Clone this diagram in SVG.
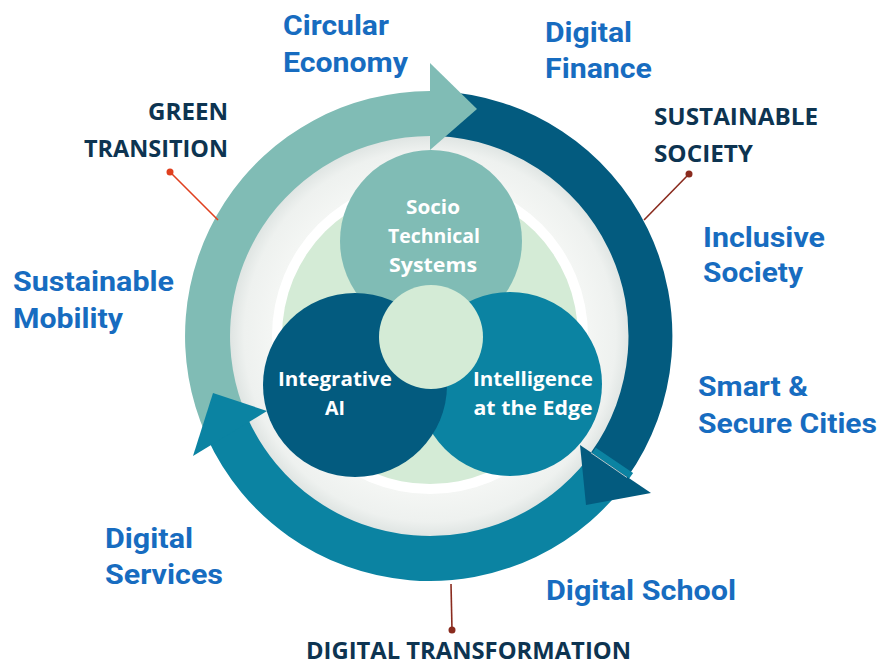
<svg xmlns="http://www.w3.org/2000/svg" width="881" height="665" viewBox="0 0 881 665">
  <defs>
    <radialGradient id="greyRing" gradientUnits="userSpaceOnUse" cx="430" cy="336" r="202">
      <stop offset="0" stop-color="#f4f6f4"/>
      <stop offset="0.78" stop-color="#f4f6f4"/>
      <stop offset="0.92" stop-color="#eef1ef"/>
      <stop offset="1" stop-color="#dde3e1"/>
    </radialGradient>
    <style>
      .blue { font-family: Roboto, "Liberation Sans", sans-serif; font-weight: 700; font-size: 28px; fill: #176cc0; }
      .navy { font-family: "Open Sans", "Liberation Sans", sans-serif; font-weight: 700; font-size: 24px; fill: #0d3451; }
      .white { font-family: "Open Sans", "Liberation Sans", sans-serif; font-weight: 700; font-size: 20px; fill: #ffffff; text-anchor: middle; }
      .lead { fill: none; stroke-width: 1.6; }
    </style>
  </defs>
  <rect width="881" height="665" fill="#ffffff"/>

  <!-- base discs -->
  <g id="core">
    <circle cx="430" cy="336" r="202" fill="url(#greyRing)"/>
    <circle cx="430" cy="336" r="158" fill="#ffffff"/>
    <circle cx="430" cy="336" r="148" fill="#d4ebd6"/>
  </g>

  <!-- cycle arrows -->
  <g id="arrow-circular">
    <path d="M 206.2 435.6 A 245 245 0 0 1 430 91 L 430 136 A 200 200 0 0 0 247.3 417.3 Z" fill="#80bcb5"/>
  </g>
  <g id="arrow-digital-finance">
    <path d="M 438.6 91.2 A 245 245 0 0 1 627 478 L 591 452.5 A 200 200 0 0 0 437 136.1 Z" fill="#035b7f"/>
  </g>
  <g id="arrow-digital-services">
    <path d="M 633.1 473 A 245 245 0 0 1 207 437.6 L 248 418.9 A 200 200 0 0 0 595.8 447.8 Z" fill="#0b83a2"/>
  </g>

  <!-- arrowheads -->
  <polygon points="193,456 213,393 267,411" fill="#0b83a2"/>
  <polygon points="580,445 651,493 586,505" fill="#035b7f"/>
  <line x1="591" y1="452.8" x2="627" y2="477.5" stroke="#b9c9cc" stroke-width="1"/>
  <polygon points="430,63 477,109 430,150" fill="#80bcb5"/>

  <!-- inner circles -->
  <g id="node-socio">
    <circle cx="431" cy="241" r="91" fill="#80bcb5"/>
  </g>
  <g id="node-edge">
    <circle cx="510" cy="384" r="92" fill="#0b83a2"/>
  </g>
  <g id="node-ai">
    <circle cx="355" cy="385" r="92" fill="#035b7f"/>
  </g>
  <g id="node-center">
    <circle cx="431" cy="337" r="52" fill="#d4ebd6"/>
  </g>

  <g id="inner-labels">
    <text class="white" x="433" y="214" textLength="54" lengthAdjust="spacingAndGlyphs">Socio</text>
    <text class="white" x="434" y="243" textLength="92" lengthAdjust="spacingAndGlyphs">Technical</text>
    <text class="white" x="433" y="272" textLength="88" lengthAdjust="spacingAndGlyphs">Systems</text>
    <text class="white" x="335" y="386" textLength="114" lengthAdjust="spacingAndGlyphs">Integrative</text>
    <text class="white" x="335" y="415" textLength="20" lengthAdjust="spacingAndGlyphs">AI</text>
    <text class="white" x="533" y="386" textLength="120" lengthAdjust="spacingAndGlyphs">Intelligence</text>
    <text class="white" x="533" y="415" textLength="119" lengthAdjust="spacingAndGlyphs">at the Edge</text>
  </g>

  <!-- leader lines -->
  <g id="connectors">
    <line class="lead" x1="170" y1="172" x2="218" y2="220" stroke="#e0401f"/>
    <circle cx="170" cy="172" r="3.5" fill="#e0401f"/>
    <line class="lead" x1="689" y1="174" x2="644" y2="220" stroke="#8a2b1e"/>
    <circle cx="689" cy="174" r="3.5" fill="#8a2b1e"/>
    <line class="lead" x1="451" y1="584" x2="452" y2="630" stroke="#8a2b1e"/>
    <circle cx="452" cy="630" r="3.5" fill="#8a2b1e"/>
  </g>

  <!-- outer labels -->
  <g id="label-green-transition">
    <text class="navy" x="148" y="120" textLength="80" lengthAdjust="spacingAndGlyphs">GREEN</text>
    <text class="navy" x="84" y="157" textLength="144" lengthAdjust="spacingAndGlyphs">TRANSITION</text>
  </g>
  <g id="label-sustainable-society">
    <text class="navy" x="654" y="125" textLength="164" lengthAdjust="spacingAndGlyphs">SUSTAINABLE</text>
    <text class="navy" x="654" y="162" textLength="99" lengthAdjust="spacingAndGlyphs">SOCIETY</text>
  </g>
  <g id="label-digital-transformation">
    <text class="navy" x="306" y="659" textLength="325" lengthAdjust="spacingAndGlyphs">DIGITAL TRANSFORMATION</text>
  </g>
  <g id="label-circular-economy">
    <text class="blue" x="283" y="35" textLength="106" lengthAdjust="spacingAndGlyphs">Circular</text>
    <text class="blue" x="283" y="72" textLength="125" lengthAdjust="spacingAndGlyphs">Economy</text>
  </g>
  <g id="label-digital-finance">
    <text class="blue" x="545" y="42" textLength="87" lengthAdjust="spacingAndGlyphs">Digital</text>
    <text class="blue" x="545" y="78" textLength="107" lengthAdjust="spacingAndGlyphs">Finance</text>
  </g>
  <g id="label-inclusive-society">
    <text class="blue" x="703" y="247" textLength="122" lengthAdjust="spacingAndGlyphs">Inclusive</text>
    <text class="blue" x="703" y="282" textLength="100" lengthAdjust="spacingAndGlyphs">Society</text>
  </g>
  <g id="label-sustainable-mobility">
    <text class="blue" x="13" y="291" textLength="161" lengthAdjust="spacingAndGlyphs">Sustainable</text>
    <text class="blue" x="13" y="328" textLength="110" lengthAdjust="spacingAndGlyphs">Mobility</text>
  </g>
  <g id="label-smart-cities">
    <text class="blue" x="698" y="396" textLength="110" lengthAdjust="spacingAndGlyphs">Smart &amp;</text>
    <text class="blue" x="698" y="433" textLength="179" lengthAdjust="spacingAndGlyphs">Secure Cities</text>
  </g>
  <g id="label-digital-services">
    <text class="blue" x="105" y="548" textLength="88" lengthAdjust="spacingAndGlyphs">Digital</text>
    <text class="blue" x="105" y="584" textLength="118" lengthAdjust="spacingAndGlyphs">Services</text>
  </g>
  <g id="label-digital-school">
    <text class="blue" x="546" y="600" textLength="190" lengthAdjust="spacingAndGlyphs">Digital School</text>
  </g>
</svg>
